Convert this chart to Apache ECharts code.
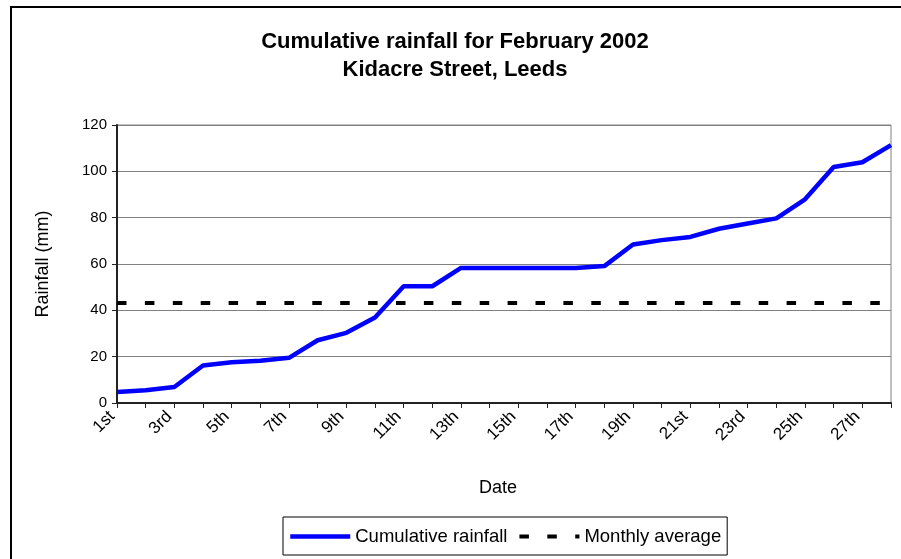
<!DOCTYPE html>
<html>
<head>
<meta charset="utf-8">
<title>Cumulative rainfall for February 2002</title>
<script src="https://cdn.jsdelivr.net/npm/echarts@6/dist/echarts.min.js"></script>
<style>
  html, body { margin: 0; padding: 0; background: #fff; }
  #chart { width: 901px; height: 559px; }
</style>
</head>
<body>
<div id="chart"></div>
<script>
// Days of February 2002
const dates = [
  '1st', '2nd', '3rd', '4th', '5th', '6th', '7th', '8th', '9th', '10th',
  '11th', '12th', '13th', '14th', '15th', '16th', '17th', '18th', '19th', '20th',
  '21st', '22nd', '23rd', '24th', '25th', '26th', '27th', '28th'
];

// Running total of rainfall (mm)
const cumulativeRainfall = [
  4.8, 5.5, 6.9, 16.2, 17.6, 18.2, 19.5, 27.1, 30.3, 36.9,
  50.4, 50.4, 58.3, 58.3, 58.3, 58.3, 58.3, 59.1, 68.4, 70.3,
  71.7, 75.2, 77.5, 79.7, 87.9, 101.9, 103.9, 111.3
];

// Long-term February average (mm), one value per day
const monthlyAverage = [
  43.2, 43.2, 43.2, 43.2, 43.2, 43.2, 43.2, 43.2, 43.2, 43.2,
  43.2, 43.2, 43.2, 43.2, 43.2, 43.2, 43.2, 43.2, 43.2, 43.2,
  43.2, 43.2, 43.2, 43.2, 43.2, 43.2, 43.2, 43.2
];

const yTicks = { min: 0, max: 120, interval: 20 };

const FONT = '"Liberation Sans", Arial, sans-serif';
const AVERAGE_DASH = [9.5, 18.4];

const chart = echarts.init(document.getElementById('chart'), null, { renderer: 'canvas' });

chart.setOption({
  animation: false,
  backgroundColor: '#ffffff',
  textStyle: { fontFamily: FONT, color: '#000' },
  title: {
    text: 'Cumulative rainfall for February 2002\nKidacre Street, Leeds',
    left: 450,
    top: 23,
    textAlign: 'center',
    textStyle: {
      fontFamily: FONT,
      fontSize: 22,
      fontWeight: 'bold',
      color: '#000',
      lineHeight: 28
    }
  },
  graphic: [
    {
      type: 'rect',
      silent: true,
      shape: { x: 11, y: 7, width: 1000, height: 1000 },
      style: { fill: 'none', stroke: '#000', lineWidth: 2 }
    }
  ],
  grid: {
    left: 117,
    right: 10,
    top: 125,
    bottom: 156,
    show: true,
    borderColor: '#808080',
    borderWidth: 1,
    backgroundColor: 'transparent'
  },
  legend: {
    left: 283,
    top: 517,
    orient: 'horizontal',
    padding: [10, 6, 9, 5],
    itemGap: 10,
    itemWidth: 60,
    itemHeight: 14,
    borderColor: '#000',
    borderWidth: 1,
    itemStyle: { opacity: 0 },
    textStyle: { fontFamily: FONT, fontSize: 18.5, color: '#000' },
    data: [
      { name: 'Cumulative rainfall', lineStyle: { width: 4.5 } },
      { name: 'Monthly average', lineStyle: { width: 4, type: AVERAGE_DASH, cap: 'butt' } }
    ]
  },
  xAxis: {
    type: 'category',
    data: dates,
    boundaryGap: false,
    name: 'Date',
    nameLocation: 'middle',
    nameGap: 76,
    nameTextStyle: { fontFamily: FONT, fontSize: 18, color: '#000', padding: [0, 12, 0, 0] },
    axisLine: { show: true, lineStyle: { color: '#222', width: 2 } },
    axisTick: { show: true, interval: 0, length: 5, lineStyle: { color: '#222', width: 1 } },
    axisLabel: {
      interval: 1,
      rotate: 45,
      margin: 6,
      padding: [0, 7, 0, 0],
      fontFamily: FONT,
      fontSize: 17,
      color: '#000'
    },
    splitLine: { show: false }
  },
  yAxis: {
    type: 'value',
    min: yTicks.min,
    max: yTicks.max,
    interval: yTicks.interval,
    name: 'Rainfall (mm)',
    nameLocation: 'middle',
    nameGap: 65,
    nameTextStyle: { fontFamily: FONT, fontSize: 18, color: '#000' },
    axisLine: { show: true, lineStyle: { color: '#222', width: 2 } },
    axisTick: { show: true, length: 5, lineStyle: { color: '#222', width: 1 } },
    axisLabel: { margin: 10, fontFamily: FONT, fontSize: 15, color: '#000' },
    splitLine: { show: true, lineStyle: { color: '#808080', width: 1 } }
  },
  series: [
    {
      name: 'Cumulative rainfall',
      type: 'line',
      data: cumulativeRainfall,
      symbol: 'none',
      color: '#0000ff',
      lineStyle: { color: '#0000ff', width: 4.5 },
      z: 3
    },
    {
      name: 'Monthly average',
      type: 'line',
      data: monthlyAverage,
      symbol: 'none',
      color: '#000000',
      lineStyle: { color: '#000000', width: 4, type: AVERAGE_DASH, cap: 'butt' },
      z: 2
    }
  ]
});
</script>
</body>
</html>
